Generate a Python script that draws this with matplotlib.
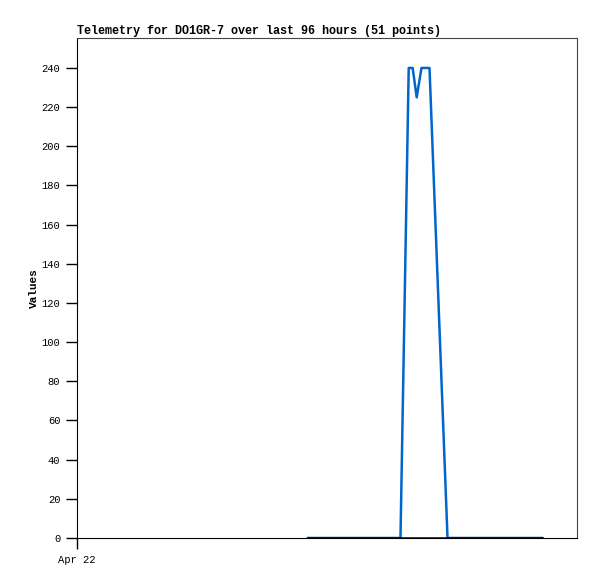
import matplotlib
matplotlib.use("Agg")
from matplotlib import pyplot as plt

# hours since Apr 22 00:00 for each telemetry point
hours = [44.35, 45.19, 46.04, 46.88, 47.73, 48.58, 49.42, 50.27, 51.11, 51.96,
         52.80, 53.65, 54.50, 55.34, 56.19, 57.03, 57.88, 58.72, 59.57, 60.42,
         61.26, 62.11, 63.69, 64.45, 65.22, 66.14, 66.91, 67.68, 71.14, 71.96,
         72.78, 73.61, 74.43, 75.26, 76.08, 76.91, 77.73, 78.56, 79.38, 80.21,
         81.03, 81.86, 82.68, 83.51, 84.33, 85.16, 85.98, 86.81, 87.63, 88.46,
         89.28]
channel_a = [0, 0, 0, 0, 0, 0, 0, 0, 0, 0,
             0, 0, 0, 0, 0, 0, 0, 0, 0, 0,
             0, 0, 240, 240, 225, 240, 240, 240, 0, 0,
             0, 0, 0, 0, 0, 0, 0, 0, 0, 0,
             0, 0, 0, 0, 0, 0, 0, 0, 0, 0,
             0]
channel_b = [0] * 51
yticks = list(range(0, 241, 20))
xtick_pos = [0]
xtick_labels = ['Apr 22']

plt.rcParams['font.family'] = ['Liberation Mono', 'DejaVu Sans Mono']

fig = plt.figure(figsize=(5.97, 5.79), dpi=100)
ax = fig.add_axes([77/597, 41/579, 500/597, 500/579])

ax.plot(hours, channel_a, color='#0066cc', lw=1.8, zorder=2)
ax.plot(hours, channel_b, color='black', lw=1.8, zorder=3)

ax.set_xlim(0, 96)
ax.set_ylim(0, 255.3)
ax.set_yticks(yticks)
ax.set_xticks(xtick_pos)
ax.set_xticklabels(xtick_labels)
ax.tick_params(axis='both', labelsize=7.6, length=8, width=1, direction='out',
               pad=4, colors='black')

for side in ['top', 'right']:
    ax.spines[side].set_color('#444444')
for side in ['left', 'bottom']:
    ax.spines[side].set_color('black')

ax.set_ylabel('Values', fontsize=8, fontweight='bold', labelpad=2)
ax.set_title('Telemetry for DO1GR-7 over last 96 hours (51 points)',
             loc='left', fontsize=8.5, fontweight='bold', pad=3)

fig.savefig('out.png', dpi=100)
